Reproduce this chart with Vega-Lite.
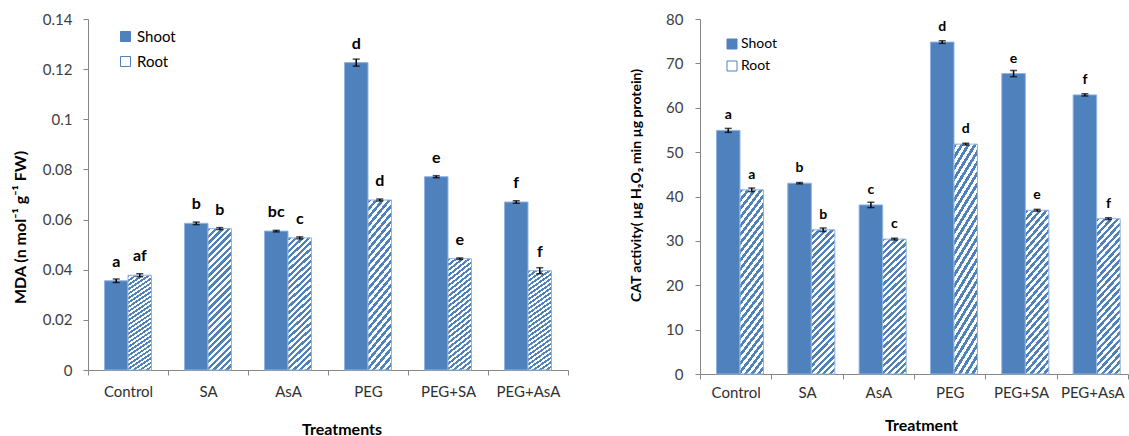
{
  "$schema": "https://vega.github.io/schema/vega-lite/v6.json",
  "padding": {"left": 12, "top": 12, "right": 0, "bottom": 0},
  "background": "white",
  "spacing": 60,
  "config": {
    "view": {"stroke": null},
    "font": "Lato",
    "axis": {
      "grid": false,
      "domainColor": "#868686",
      "tickColor": "#868686",
      "tickSize": 5,
      "labelColor": "#404040",
      "labelFont": "Lato",
      "labelFontSize": 15,
      "titleFont": "Lato",
      "titleFontWeight": "bold",
      "titleColor": "#000000"
    },
    "legend": {
      "orient": "none",
      "title": null,
      "direction": "vertical",
      "symbolType": "square",
      "symbolSize": 100,
      "symbolStrokeColor": "#4F81BD",
      "symbolStrokeWidth": 1,
      "labelFont": "Lato",
      "labelColor": "#000000",
      "padding": 0
    }
  },
  "resolve": {"scale": {"x": "independent", "y": "independent", "fill": "independent"}, "legend": {"fill": "independent"}},
  "hconcat": [
    {
      "width": 480,
      "height": 351,
      "data": {"values": [
        {"t": "Control", "organ": "Shoot", "v": 0.0356, "e": 0.0007, "l": "a"},
        {"t": "Control", "organ": "Root", "v": 0.0378, "e": 0.0006, "l": "af"},
        {"t": "SA", "organ": "Shoot", "v": 0.0585, "e": 0.0005, "l": "b"},
        {"t": "SA", "organ": "Root", "v": 0.0564, "e": 0.0004, "l": "b"},
        {"t": "AsA", "organ": "Shoot", "v": 0.0554, "e": 0.0003, "l": "bc"},
        {"t": "AsA", "organ": "Root", "v": 0.0527, "e": 0.0004, "l": "c"},
        {"t": "PEG", "organ": "Shoot", "v": 0.1226, "e": 0.0014, "l": "d"},
        {"t": "PEG", "organ": "Root", "v": 0.0678, "e": 0.0004, "l": "d"},
        {"t": "PEG+SA", "organ": "Shoot", "v": 0.0771, "e": 0.0004, "l": "e"},
        {"t": "PEG+SA", "organ": "Root", "v": 0.0444, "e": 0.0003, "l": "e"},
        {"t": "PEG+AsA", "organ": "Shoot", "v": 0.067, "e": 0.0005, "l": "f"},
        {"t": "PEG+AsA", "organ": "Root", "v": 0.0396, "e": 0.0012, "l": "f"}
      ]},
      "encoding": {
        "x": {"field": "t", "type": "nominal", "sort": ["Control", "SA", "AsA", "PEG", "PEG+SA", "PEG+AsA"],
              "scale": {"paddingInner": 0, "paddingOuter": 0},
              "axis": {"title": "Treatments", "labelAngle": 0, "tickBand": "extent", "labelPadding": 9, "titlePadding": 22, "titleFontSize": 16, "titleX": 253.5, "labelColor": "#303030"}},
        "xOffset": {"field": "organ", "type": "nominal", "sort": ["Shoot", "Root"], "scale": {"paddingInner": 0, "paddingOuter": 0.7}},
        "y": {"field": "v", "type": "quantitative", "scale": {"domain": [0, 0.14]},
              "axis": {"title": "MDA (n mol⁻¹ g⁻¹ FW)", "values": [0, 0.02, 0.04, 0.06, 0.08, 0.1, 0.12, 0.14], "format": "~g", "labelPadding": 11, "titleFontSize": 16, "titleX": -68, "titleY": 208, "titleBaseline": "middle"}}
      },
      "layer": [
        {
          "mark": {"type": "bar", "stroke": "#8EB4E3", "strokeWidth": 1},
          "encoding": {
            "fill": {
              "condition": {"test": "datum.organ === 'Root'", "value": {"gradient": "linear", "x1": 0, "y1": 0, "x2": 0.1892, "y2": 1.1351, "stops": [
                {"offset": 0, "color": "#4F81BD"}, {"offset": 0.02, "color": "#4F81BD"}, {"offset": 0.02, "color": "#FFFFFF"}, {"offset": 0.04, "color": "#FFFFFF"},
                {"offset": 0.04, "color": "#4F81BD"}, {"offset": 0.06, "color": "#4F81BD"}, {"offset": 0.06, "color": "#FFFFFF"}, {"offset": 0.08, "color": "#FFFFFF"},
                {"offset": 0.08, "color": "#4F81BD"}, {"offset": 0.1, "color": "#4F81BD"}, {"offset": 0.1, "color": "#FFFFFF"}, {"offset": 0.12, "color": "#FFFFFF"},
                {"offset": 0.12, "color": "#4F81BD"}, {"offset": 0.14, "color": "#4F81BD"}, {"offset": 0.14, "color": "#FFFFFF"}, {"offset": 0.16, "color": "#FFFFFF"},
                {"offset": 0.16, "color": "#4F81BD"}, {"offset": 0.18, "color": "#4F81BD"}, {"offset": 0.18, "color": "#FFFFFF"}, {"offset": 0.2, "color": "#FFFFFF"},
                {"offset": 0.2, "color": "#4F81BD"}, {"offset": 0.22, "color": "#4F81BD"}, {"offset": 0.22, "color": "#FFFFFF"}, {"offset": 0.24, "color": "#FFFFFF"},
                {"offset": 0.24, "color": "#4F81BD"}, {"offset": 0.26, "color": "#4F81BD"}, {"offset": 0.26, "color": "#FFFFFF"}, {"offset": 0.28, "color": "#FFFFFF"},
                {"offset": 0.28, "color": "#4F81BD"}, {"offset": 0.3, "color": "#4F81BD"}, {"offset": 0.3, "color": "#FFFFFF"}, {"offset": 0.32, "color": "#FFFFFF"},
                {"offset": 0.32, "color": "#4F81BD"}, {"offset": 0.34, "color": "#4F81BD"}, {"offset": 0.34, "color": "#FFFFFF"}, {"offset": 0.36, "color": "#FFFFFF"},
                {"offset": 0.36, "color": "#4F81BD"}, {"offset": 0.38, "color": "#4F81BD"}, {"offset": 0.38, "color": "#FFFFFF"}, {"offset": 0.4, "color": "#FFFFFF"},
                {"offset": 0.4, "color": "#4F81BD"}, {"offset": 0.42, "color": "#4F81BD"}, {"offset": 0.42, "color": "#FFFFFF"}, {"offset": 0.44, "color": "#FFFFFF"},
                {"offset": 0.44, "color": "#4F81BD"}, {"offset": 0.46, "color": "#4F81BD"}, {"offset": 0.46, "color": "#FFFFFF"}, {"offset": 0.48, "color": "#FFFFFF"},
                {"offset": 0.48, "color": "#4F81BD"}, {"offset": 0.5, "color": "#4F81BD"}, {"offset": 0.5, "color": "#FFFFFF"}, {"offset": 0.52, "color": "#FFFFFF"},
                {"offset": 0.52, "color": "#4F81BD"}, {"offset": 0.54, "color": "#4F81BD"}, {"offset": 0.54, "color": "#FFFFFF"}, {"offset": 0.56, "color": "#FFFFFF"},
                {"offset": 0.56, "color": "#4F81BD"}, {"offset": 0.58, "color": "#4F81BD"}, {"offset": 0.58, "color": "#FFFFFF"}, {"offset": 0.6, "color": "#FFFFFF"},
                {"offset": 0.6, "color": "#4F81BD"}, {"offset": 0.62, "color": "#4F81BD"}, {"offset": 0.62, "color": "#FFFFFF"}, {"offset": 0.64, "color": "#FFFFFF"},
                {"offset": 0.64, "color": "#4F81BD"}, {"offset": 0.66, "color": "#4F81BD"}, {"offset": 0.66, "color": "#FFFFFF"}, {"offset": 0.68, "color": "#FFFFFF"},
                {"offset": 0.68, "color": "#4F81BD"}, {"offset": 0.7, "color": "#4F81BD"}, {"offset": 0.7, "color": "#FFFFFF"}, {"offset": 0.72, "color": "#FFFFFF"},
                {"offset": 0.72, "color": "#4F81BD"}, {"offset": 0.74, "color": "#4F81BD"}, {"offset": 0.74, "color": "#FFFFFF"}, {"offset": 0.76, "color": "#FFFFFF"},
                {"offset": 0.76, "color": "#4F81BD"}, {"offset": 0.78, "color": "#4F81BD"}, {"offset": 0.78, "color": "#FFFFFF"}, {"offset": 0.8, "color": "#FFFFFF"},
                {"offset": 0.8, "color": "#4F81BD"}, {"offset": 0.82, "color": "#4F81BD"}, {"offset": 0.82, "color": "#FFFFFF"}, {"offset": 0.84, "color": "#FFFFFF"},
                {"offset": 0.84, "color": "#4F81BD"}, {"offset": 0.86, "color": "#4F81BD"}, {"offset": 0.86, "color": "#FFFFFF"}, {"offset": 0.88, "color": "#FFFFFF"},
                {"offset": 0.88, "color": "#4F81BD"}, {"offset": 0.9, "color": "#4F81BD"}, {"offset": 0.9, "color": "#FFFFFF"}, {"offset": 0.92, "color": "#FFFFFF"},
                {"offset": 0.92, "color": "#4F81BD"}, {"offset": 0.94, "color": "#4F81BD"}, {"offset": 0.94, "color": "#FFFFFF"}, {"offset": 0.96, "color": "#FFFFFF"},
                {"offset": 0.96, "color": "#4F81BD"}, {"offset": 0.98, "color": "#4F81BD"}, {"offset": 0.98, "color": "#FFFFFF"}, {"offset": 1, "color": "#FFFFFF"}
              ]}},
              "field": "organ", "type": "nominal", "sort": ["Shoot", "Root"],
              "scale": {"domain": ["Shoot", "Root"], "range": ["#4F81BD", "#FFFFFF"]},
              "legend": {"legendX": 30, "legendY": 10, "labelFontSize": 15, "rowPadding": 9, "labelOffset": 4}}
          }
        },
        {
          "mark": {"type": "errorbar", "ticks": {"size": 7}, "thickness": 1.5, "color": "#000000"},
          "encoding": {"yError": {"field": "e"}}
        },
        {
          "mark": {"type": "text", "dy": -11, "baseline": "bottom", "fontWeight": "bold", "fontSize": 16, "font": "Lato", "color": "#000000"},
          "encoding": {"text": {"field": "l"}}
        }
      ]
    },
    {
      "width": 428,
      "height": 355,
      "data": {"values": [
        {"t": "Control", "organ": "Shoot", "v": 54.9, "e": 0.45, "l": "a"},
        {"t": "Control", "organ": "Root", "v": 41.5, "e": 0.4, "l": "a"},
        {"t": "SA", "organ": "Shoot", "v": 43.0, "e": 0.15, "l": "b"},
        {"t": "SA", "organ": "Root", "v": 32.5, "e": 0.4, "l": "b"},
        {"t": "AsA", "organ": "Shoot", "v": 38.1, "e": 0.6, "l": "c"},
        {"t": "AsA", "organ": "Root", "v": 30.4, "e": 0.2, "l": "c"},
        {"t": "PEG", "organ": "Shoot", "v": 74.8, "e": 0.3, "l": "d"},
        {"t": "PEG", "organ": "Root", "v": 51.8, "e": 0.2, "l": "d"},
        {"t": "PEG+SA", "organ": "Shoot", "v": 67.7, "e": 0.7, "l": "e"},
        {"t": "PEG+SA", "organ": "Root", "v": 36.9, "e": 0.2, "l": "e"},
        {"t": "PEG+AsA", "organ": "Shoot", "v": 62.9, "e": 0.25, "l": "f"},
        {"t": "PEG+AsA", "organ": "Root", "v": 35.0, "e": 0.2, "l": "f"}
      ]},
      "encoding": {
        "x": {"field": "t", "type": "nominal", "sort": ["Control", "SA", "AsA", "PEG", "PEG+SA", "PEG+AsA"],
              "scale": {"paddingInner": 0, "paddingOuter": 0},
              "axis": {"title": "Treatment", "labelAngle": 0, "tickBand": "extent", "labelPadding": 6, "titlePadding": 17, "titleFontSize": 16, "titleX": 221, "labelColor": "#303030"}},
        "xOffset": {"field": "organ", "type": "nominal", "sort": ["Shoot", "Root"], "scale": {"paddingInner": 0, "paddingOuter": 0.7}},
        "y": {"field": "v", "type": "quantitative", "scale": {"domain": [0, 80]},
              "axis": {"title": "CAT activity( µg H₂O₂ min µg protein)", "values": [0, 10, 20, 30, 40, 50, 60, 70, 80], "labelPadding": 12, "titleFontSize": 14, "titleX": -64, "titleY": 166, "titleBaseline": "middle"}}
      },
      "layer": [
        {
          "mark": {"type": "bar", "stroke": "#8EB4E3", "strokeWidth": 1},
          "encoding": {
            "fill": {
              "condition": {"test": "datum.organ === 'Root'", "value": {"gradient": "linear", "x1": 0, "y1": 0, "x2": 0.1892, "y2": 1.1351, "stops": [
                {"offset": 0, "color": "#4F81BD"}, {"offset": 0.02, "color": "#4F81BD"}, {"offset": 0.02, "color": "#FFFFFF"}, {"offset": 0.04, "color": "#FFFFFF"},
                {"offset": 0.04, "color": "#4F81BD"}, {"offset": 0.06, "color": "#4F81BD"}, {"offset": 0.06, "color": "#FFFFFF"}, {"offset": 0.08, "color": "#FFFFFF"},
                {"offset": 0.08, "color": "#4F81BD"}, {"offset": 0.1, "color": "#4F81BD"}, {"offset": 0.1, "color": "#FFFFFF"}, {"offset": 0.12, "color": "#FFFFFF"},
                {"offset": 0.12, "color": "#4F81BD"}, {"offset": 0.14, "color": "#4F81BD"}, {"offset": 0.14, "color": "#FFFFFF"}, {"offset": 0.16, "color": "#FFFFFF"},
                {"offset": 0.16, "color": "#4F81BD"}, {"offset": 0.18, "color": "#4F81BD"}, {"offset": 0.18, "color": "#FFFFFF"}, {"offset": 0.2, "color": "#FFFFFF"},
                {"offset": 0.2, "color": "#4F81BD"}, {"offset": 0.22, "color": "#4F81BD"}, {"offset": 0.22, "color": "#FFFFFF"}, {"offset": 0.24, "color": "#FFFFFF"},
                {"offset": 0.24, "color": "#4F81BD"}, {"offset": 0.26, "color": "#4F81BD"}, {"offset": 0.26, "color": "#FFFFFF"}, {"offset": 0.28, "color": "#FFFFFF"},
                {"offset": 0.28, "color": "#4F81BD"}, {"offset": 0.3, "color": "#4F81BD"}, {"offset": 0.3, "color": "#FFFFFF"}, {"offset": 0.32, "color": "#FFFFFF"},
                {"offset": 0.32, "color": "#4F81BD"}, {"offset": 0.34, "color": "#4F81BD"}, {"offset": 0.34, "color": "#FFFFFF"}, {"offset": 0.36, "color": "#FFFFFF"},
                {"offset": 0.36, "color": "#4F81BD"}, {"offset": 0.38, "color": "#4F81BD"}, {"offset": 0.38, "color": "#FFFFFF"}, {"offset": 0.4, "color": "#FFFFFF"},
                {"offset": 0.4, "color": "#4F81BD"}, {"offset": 0.42, "color": "#4F81BD"}, {"offset": 0.42, "color": "#FFFFFF"}, {"offset": 0.44, "color": "#FFFFFF"},
                {"offset": 0.44, "color": "#4F81BD"}, {"offset": 0.46, "color": "#4F81BD"}, {"offset": 0.46, "color": "#FFFFFF"}, {"offset": 0.48, "color": "#FFFFFF"},
                {"offset": 0.48, "color": "#4F81BD"}, {"offset": 0.5, "color": "#4F81BD"}, {"offset": 0.5, "color": "#FFFFFF"}, {"offset": 0.52, "color": "#FFFFFF"},
                {"offset": 0.52, "color": "#4F81BD"}, {"offset": 0.54, "color": "#4F81BD"}, {"offset": 0.54, "color": "#FFFFFF"}, {"offset": 0.56, "color": "#FFFFFF"},
                {"offset": 0.56, "color": "#4F81BD"}, {"offset": 0.58, "color": "#4F81BD"}, {"offset": 0.58, "color": "#FFFFFF"}, {"offset": 0.6, "color": "#FFFFFF"},
                {"offset": 0.6, "color": "#4F81BD"}, {"offset": 0.62, "color": "#4F81BD"}, {"offset": 0.62, "color": "#FFFFFF"}, {"offset": 0.64, "color": "#FFFFFF"},
                {"offset": 0.64, "color": "#4F81BD"}, {"offset": 0.66, "color": "#4F81BD"}, {"offset": 0.66, "color": "#FFFFFF"}, {"offset": 0.68, "color": "#FFFFFF"},
                {"offset": 0.68, "color": "#4F81BD"}, {"offset": 0.7, "color": "#4F81BD"}, {"offset": 0.7, "color": "#FFFFFF"}, {"offset": 0.72, "color": "#FFFFFF"},
                {"offset": 0.72, "color": "#4F81BD"}, {"offset": 0.74, "color": "#4F81BD"}, {"offset": 0.74, "color": "#FFFFFF"}, {"offset": 0.76, "color": "#FFFFFF"},
                {"offset": 0.76, "color": "#4F81BD"}, {"offset": 0.78, "color": "#4F81BD"}, {"offset": 0.78, "color": "#FFFFFF"}, {"offset": 0.8, "color": "#FFFFFF"},
                {"offset": 0.8, "color": "#4F81BD"}, {"offset": 0.82, "color": "#4F81BD"}, {"offset": 0.82, "color": "#FFFFFF"}, {"offset": 0.84, "color": "#FFFFFF"},
                {"offset": 0.84, "color": "#4F81BD"}, {"offset": 0.86, "color": "#4F81BD"}, {"offset": 0.86, "color": "#FFFFFF"}, {"offset": 0.88, "color": "#FFFFFF"},
                {"offset": 0.88, "color": "#4F81BD"}, {"offset": 0.9, "color": "#4F81BD"}, {"offset": 0.9, "color": "#FFFFFF"}, {"offset": 0.92, "color": "#FFFFFF"},
                {"offset": 0.92, "color": "#4F81BD"}, {"offset": 0.94, "color": "#4F81BD"}, {"offset": 0.94, "color": "#FFFFFF"}, {"offset": 0.96, "color": "#FFFFFF"},
                {"offset": 0.96, "color": "#4F81BD"}, {"offset": 0.98, "color": "#4F81BD"}, {"offset": 0.98, "color": "#FFFFFF"}, {"offset": 1, "color": "#FFFFFF"}
              ]}},
              "field": "organ", "type": "nominal", "sort": ["Shoot", "Root"],
              "scale": {"domain": ["Shoot", "Root"], "range": ["#4F81BD", "#FFFFFF"]},
              "legend": {"legendX": 25, "legendY": 18, "labelFontSize": 14, "rowPadding": 8, "labelOffset": 2}}
          }
        },
        {
          "mark": {"type": "errorbar", "ticks": {"size": 7}, "thickness": 1.5, "color": "#000000"},
          "encoding": {"yError": {"field": "e"}}
        },
        {
          "mark": {"type": "text", "dy": -8, "baseline": "bottom", "fontWeight": "bold", "fontSize": 14, "font": "Lato", "color": "#000000"},
          "encoding": {"text": {"field": "l"}}
        }
      ]
    }
  ]
}
